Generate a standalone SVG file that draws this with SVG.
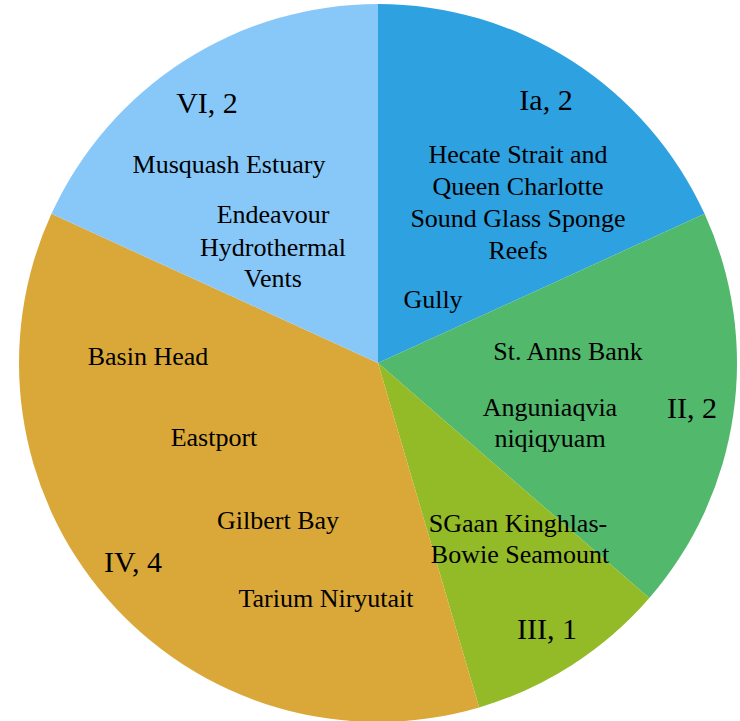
<svg xmlns="http://www.w3.org/2000/svg" width="740" height="721" viewBox="0 0 740 721">
<style>
text{font-family:"Liberation Serif","Times New Roman",serif;fill:#000;text-anchor:middle}
.n{font-size:26px}
.c{font-size:30px}
</style>
<rect width="740" height="721" fill="#fff"/>
<g id="slices">
<g id="slice-Ia"><path d="M378,363 L378,4 A359,359 0 0 1 704.56,213.86 Z" fill="#2EA1E0"/></g>
<g id="slice-II"><path d="M378,363 L704.56,213.86 A359,359 0 0 1 649.31,598.09 Z" fill="#51B86C"/></g>
<g id="slice-III"><path d="M378,363 L649.31,598.09 A359,359 0 0 1 479.14,707.46 Z" fill="#93BA27"/></g>
<g id="slice-IV"><path d="M378,363 L479.14,707.46 A359,359 0 0 1 51.44,213.86 Z" fill="#D9A838"/></g>
<g id="slice-VI"><path d="M378,363 L51.44,213.86 A359,359 0 0 1 378,4 Z" fill="#88C8F8"/></g>
</g>
<g id="labels-Ia">
<text class="c" x="546" y="110">Ia, 2</text>
<text class="n" x="518" y="163">Hecate Strait and</text>
<text class="n" x="518" y="195">Queen Charlotte</text>
<text class="n" x="518" y="227">Sound Glass Sponge</text>
<text class="n" x="518" y="259">Reefs</text>
<text class="n" x="433" y="308">Gully</text>
</g>
<g id="labels-II">
<text class="n" x="568" y="360">St. Anns Bank</text>
<text class="n" x="550" y="416">Anguniaqvia</text>
<text class="n" x="550" y="447">niqiqyuam</text>
<text class="c" x="692" y="418">II, 2</text>
</g>
<g id="labels-III">
<text class="n" x="518" y="532">SGaan Kinghlas-</text>
<text class="n" x="520" y="563">Bowie Seamount</text>
<text class="c" x="547" y="639">III, 1</text>
</g>
<g id="labels-IV">
<text class="n" x="148" y="365">Basin Head</text>
<text class="n" x="214" y="446">Eastport</text>
<text class="n" x="278" y="529">Gilbert Bay</text>
<text class="c" x="133" y="572">IV, 4</text>
<text class="n" x="326" y="607">Tarium Niryutait</text>
</g>
<g id="labels-VI">
<text class="c" x="207" y="113">VI, 2</text>
<text class="n" x="229" y="173">Musquash Estuary</text>
<text class="n" x="273" y="223">Endeavour</text>
<text class="n" x="273" y="256">Hydrothermal</text>
<text class="n" x="273" y="287">Vents</text>
</g>
</svg>
